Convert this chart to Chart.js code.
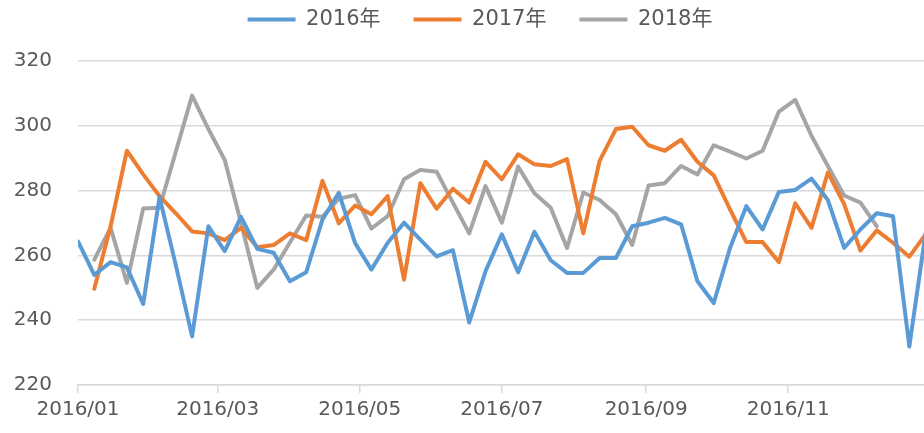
<!DOCTYPE html>
<html>
<head>
<meta charset="utf-8">
<script src="https://cdn.jsdelivr.net/npm/chart.js@4.4.0/dist/chart.umd.min.js"></script>
<style>
  html, body { margin: 0; padding: 0; background: #fff; }
  #wrap { width: 924px; height: 433px; }
</style>
</head>
<body>
<div id="wrap"><canvas id="grafico"></canvas></div>
<script>
// weekly values, one per week starting 2016/01/01
const serie2016 = [264.3, 254, 257.9, 256.3, 245, 278, 257, 235, 269, 261.3,
  271.9, 262, 260.8, 252, 254.8, 271.1, 279.3, 263.8, 255.6, 263.9,
  270.1, 264.9, 259.7, 261.6, 239.3, 255.1, 266.5, 254.8, 267.3, 258.5,
  254.6, 254.6, 259.2, 259.2, 269, 270.1, 271.6, 269.6, 252, 245.3,
  262.3, 275.2, 268, 279.6, 280.2, 283.7, 277.1, 262.3, 268, 273,
  272.1, 231.9, 267];
const serie2017 = [null, 249.7, 269, 292.3, 285, 278.3, 273, 267.4, 266.8, 264.7,
  268.5, 262.5, 263.2, 266.8, 264.7, 283, 269.9, 275.4, 272.7, 278.3,
  252.5, 282.3, 274.4, 280.6, 276.3, 288.9, 283.5, 291.2, 288.1, 287.6,
  289.7, 266.8, 289.2, 299, 299.7, 294, 292.3, 295.7, 288.9, 284.7,
  274.2, 264.1, 264.1, 257.9, 276.1, 268.5, 285.6, 275.8, 261.5, 267.7,
  263.9, 259.6, 266.5];
const serie2018 = [null, 258.7, 268.5, 251.5, 274.5, 274.7, 292, 309.3, 299, 289.5,
  270, 250, 255.6, 264, 272.3, 271.9, 277.5, 278.6, 268.3, 272.1,
  283.5, 286.4, 285.8, 276.3, 266.8, 281.4, 270.1, 287.4, 279.2, 274.7,
  262.3, 279.4, 277.1, 272.7, 263.2, 281.6, 282.3, 287.6, 285, 294,
  292, 289.9, 292.3, 304.4, 308, 296.9, 287.6, 278.5, 276.3, 269,
  null, null, null];

// day of year where the month labels sit
const tickDays = [0, 60, 121, 182, 244, 305];
const tickLabels = ["2016/01", "2016/03", "2016/05", "2016/07", "2016/09", "2016/11"];
const yTicks = [220, 240, 260, 280, 300, 320];

const fuente = "'DejaVu Sans', 'Noto Sans CJK SC', sans-serif";
const gris = "#595959";

function puntos(serie) {
  return serie.map((v, i) => ({ x: i * 7, y: v }));
}

const datasets = [
  { label: "2016年", data: puntos(serie2016), borderColor: "#5B9BD5", backgroundColor: "#5B9BD5" },
  { label: "2017年", data: puntos(serie2017), borderColor: "#ED7D31", backgroundColor: "#ED7D31" },
  { label: "2018年", data: puntos(serie2018), borderColor: "#A5A5A5", backgroundColor: "#A5A5A5" }
].map(d => Object.assign(d, {
  borderWidth: 4,
  pointRadius: 0,
  tension: 0,
  borderJoinStyle: "round",
  borderCapStyle: "round",
  spanGaps: false
}));

// leyenda: altura fija y un poco desplazada, como en el original
const ajusteLeyenda = {
  id: "ajusteLeyenda",
  beforeInit(chart) {
    const fit = chart.legend.fit;
    chart.legend.fit = function () {
      fit.bind(chart.legend)();
      this.height = 61;
    };
  },
  afterLayout(chart) {
    const lg = chart.legend;
    lg.top -= 24; lg.bottom -= 24;
    lg.left += 18; lg.right += 18;
  }
};

new Chart(document.getElementById("grafico").getContext("2d"), {
  type: "line",
  data: { datasets: datasets },
  plugins: [ajusteLeyenda],
  options: {
    responsive: true,
    maintainAspectRatio: false,
    animation: false,
    layout: { padding: 0 },
    plugins: {
      tooltip: { enabled: false },
      legend: {
        position: "top",
        labels: {
          usePointStyle: true,
          pointStyle: "line",
          pointStyleWidth: 48,
          padding: 33,
          color: gris,
          font: { family: fuente, size: 21 }
        }
      }
    },
    scales: {
      x: {
        type: "linear",
        min: 0,
        max: 363.3,
        afterBuildTicks: axis => { axis.ticks = tickDays.map(v => ({ value: v })); },
        afterFit: axis => { axis.height = 48; },
        ticks: {
          autoSkip: false,
          maxRotation: 0,
          padding: 5,
          color: gris,
          font: { family: fuente, size: 20 },
          callback: v => tickLabels[tickDays.indexOf(v)]
        },
        grid: { drawOnChartArea: false, drawTicks: true, tickLength: 8, color: "#D9D9D9", lineWidth: 1.5 },
        border: { display: true, color: "#D9D9D9", width: 1.5 }
      },
      y: {
        min: 220,
        max: 320,
        afterBuildTicks: axis => { axis.ticks = yTicks.map(v => ({ value: v })); },
        afterFit: axis => { axis.width = 78; },
        ticks: {
          padding: 26,
          color: gris,
          font: { family: fuente, size: 20 }
        },
        grid: { color: "#D9D9D9", lineWidth: 1.5, drawTicks: false },
        border: { display: false }
      }
    }
  }
});
</script>
</body>
</html>
